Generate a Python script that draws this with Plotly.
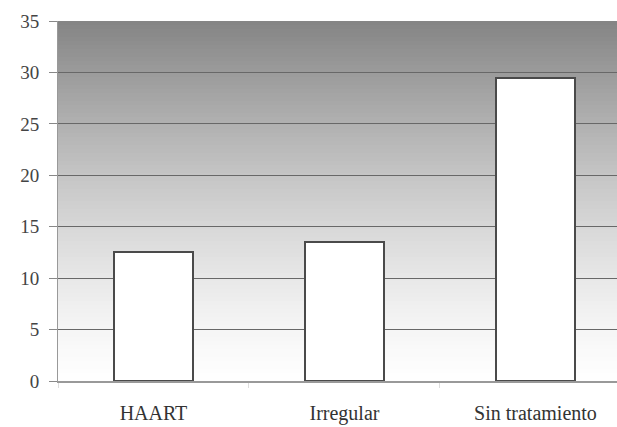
import plotly.graph_objects as go

categories = ["HAART", "Irregular", "Sin tratamiento"]
values = [12.5, 13.5, 29.5]
y_ticks = [0, 5, 10, 15, 20, 25, 30, 35]

fig = go.Figure()
fig.add_trace(go.Bar(
    x=categories, y=values, width=0.41,
    marker=dict(color="white", line=dict(color="#4a4a4a", width=2)),
))

# vertical gradient background via thin stripes
n = 90
shapes = []
for i in range(n):
    f0 = i / n
    f1 = (i + 1) / n
    t = (f0 + f1) / 2  # 0 bottom, 1 top
    g = int(round(254 - 122 * (t ** 1.35)))
    shapes.append(dict(type="rect", xref="paper", yref="paper", x0=0, x1=1,
                       y0=f0, y1=f1, fillcolor=f"rgb({g},{g},{g})",
                       line=dict(width=0), layer="below"))

fig.update_layout(
    width=617, height=427,
    margin=dict(l=58, r=0, t=21, b=46),
    paper_bgcolor="white", plot_bgcolor="white",
    shapes=shapes, showlegend=False,
    font=dict(family="Liberation Serif", color="#333333"),
    bargap=0,
)
fig.update_yaxes(range=[0, 35], tickvals=y_ticks, showgrid=True,
                 gridcolor="#686868", gridwidth=1, ticks="outside", ticklen=8,
                 tickcolor="#888888", showline=True, linecolor="#999999",
                 tickfont=dict(size=19, color="#444444"), ticklabelstandoff=6,
                 zeroline=False, layer="below traces")
fig.update_xaxes(range=[-0.5, 2.427], showgrid=False, showline=True,
                 linecolor="#999999", linewidth=2, ticks="outside", tickson="boundaries",
                 ticklen=5, tickcolor="#dddddd",
                 tickfont=dict(size=20, color="#333333"), ticklabelstandoff=13)

fig.write_html("out.html", config={"displayModeBar": False},
               post_script="document.body.style.margin='0';document.body.style.overflow='hidden';")
